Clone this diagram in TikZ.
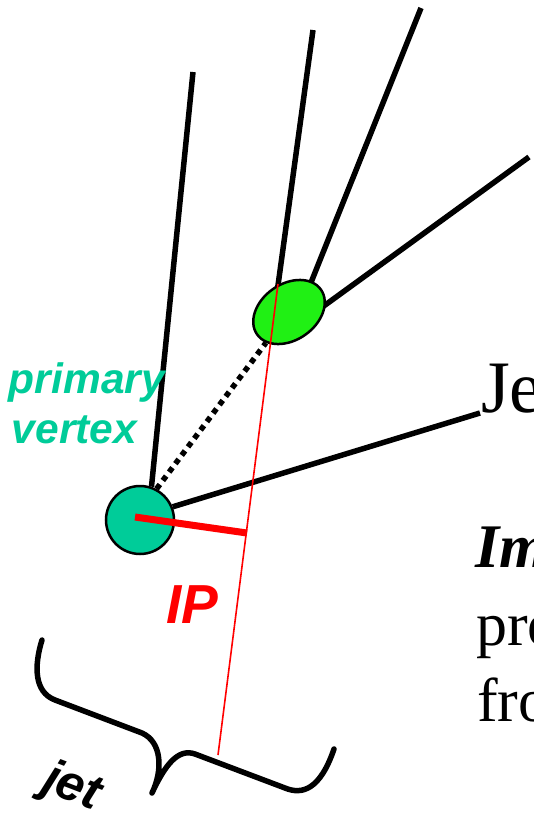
\documentclass[tikz,border=0pt]{standalone}
\usepackage{fontspec}
\setmainfont{Liberation Serif}
\newfontfamily\arialfont{Liberation Sans}
\usetikzlibrary{shapes.geometric,backgrounds}
\definecolor{pvteal}{RGB}{0,204,153}
\definecolor{svgreen}{RGB}{32,240,20}
\definecolor{ipred}{RGB}{255,0,0}
\begin{document}
\begin{tikzpicture}[x=1pt,y=-1pt,
  track/.style={line width=5.5pt},
  vtx/.style={draw=black, line width=2.5pt, inner sep=0pt},
  lbl/.style={inner sep=0pt, outer sep=0pt, anchor=base west},
  sanslbl/.style={lbl, font=\arialfont\bfseries\itshape},
  serifbig/.style={lbl, font=\fontsize{62}{74}\selectfont},
]
\useasboundingbox (0,0) rectangle (534,817);
\clip (0,0) rectangle (534,817);

% vertices
\node[vtx, circle, fill=pvteal, minimum size=68pt] (pv) at (140,520) {};
\node[vtx, ellipse, fill=svgreen, minimum width=78pt, minimum height=56pt, rotate=35] (sv) at (289,312) {};

% tracks (behind the vertices)
\begin{pgfonlayer}{background}
  \coordinate (t1) at (193,72);
  \coordinate (tj) at (480,413);
  \coordinate (s2) at (276,300);
  \coordinate (t2) at (313,30);
  \coordinate (s3) at (304,300);
  \coordinate (t3) at (421,8);
  \coordinate (s4) at (310,316);
  \coordinate (t4) at (529,157);
  \draw[track] (pv.71) -- (t1);
  \draw[track] (pv.22) -- (tj);
  \draw[track] (s2) -- (t2);
  \draw[track] (s3) -- (t3);
  \draw[track] (s4) -- (t4);
  \draw[line width=5.5pt, dash pattern=on 5.5pt off 5pt] (pv.62) -- (sv);
\end{pgfonlayer}

% red lines
\coordinate (r1) at (278,284);
\coordinate (r2) at (218,755);
\draw[ipred, line width=1.6pt] (r1) -- (r2);
\coordinate (ipstart) at (135,517);
\coordinate (ipend) at (247,533);
\draw[ipred, line width=7pt] (ipstart) -- (ipend);

% brace
\draw[line width=5.5pt, line cap=round, line join=round]
  (42,640) .. controls (34,666) and (34,692) .. (55,700)
  -- (142,733) .. controls (162,742) and (163,770) .. (152,793)
  .. controls (165,765) and (178,748) .. (195,754)
  -- (285,788) .. controls (302,795) and (320,790) .. (334,749);

% labels
\node[sanslbl, text=pvteal, font=\arialfont\bfseries\itshape\fontsize{42.5}{50}\selectfont] (lp1) at (9,393) {primary};
\node[sanslbl, text=pvteal, font=\arialfont\bfseries\itshape\fontsize{42.5}{50}\selectfont] (lp2) at (12,443) {vertex};
\node[sanslbl, text=ipred, font=\arialfont\bfseries\itshape\fontsize{55}{62}\selectfont] (lip) at (166,623) {IP};
\node[sanslbl, rotate=-21, font=\arialfont\bfseries\itshape\fontsize{50}{58}\selectfont] (ljet) at (40,790) {jet};

\node[lbl, font=\fontsize{74}{88}\selectfont] (ljt) at (481,412) {Je};
\node[serifbig, font=\fontsize{62}{74}\selectfont\bfseries\itshape] (limp) at (475,567) {Imp};
\node[serifbig] (lpro) at (476,645) {pro};
\node[serifbig] (lfro) at (477,721) {fro};
\end{tikzpicture}
\end{document}
